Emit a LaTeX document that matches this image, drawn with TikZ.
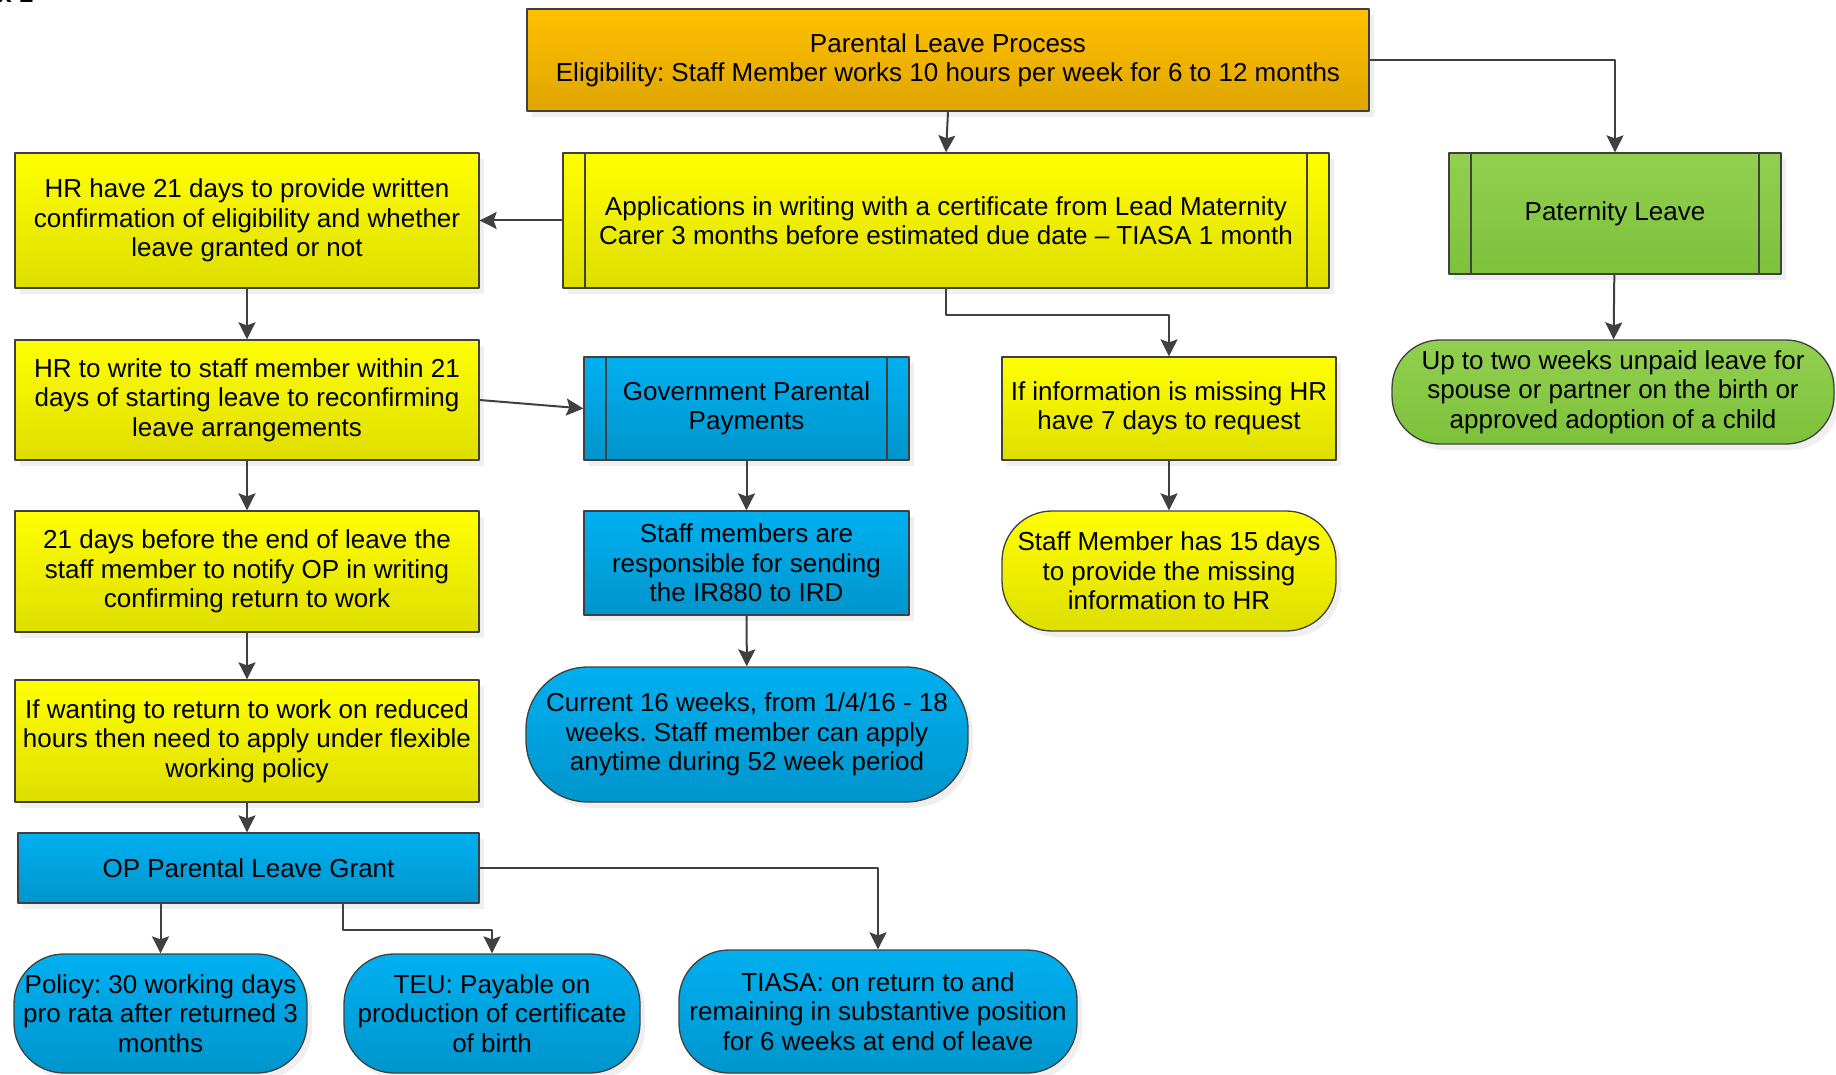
\documentclass[tikz,border=0pt]{standalone}
\usepackage{fontspec}
\setmainfont{Liberation Sans}
\frenchspacing
\usetikzlibrary{arrows.meta,shadows}
\definecolor{linegray}{HTML}{404040}
\definecolor{orgtop}{HTML}{FFC000}
\definecolor{orgbot}{HTML}{DFA500}
\definecolor{ylwtop}{HTML}{FFFF00}
\definecolor{ylwbot}{HTML}{DEDE00}
\definecolor{blutop}{HTML}{00B0F0}
\definecolor{blubot}{HTML}{0095CC}
\definecolor{grntop}{HTML}{92D050}
\definecolor{grnbot}{HTML}{7DC13A}
\tikzset{
box/.style={draw=linegray,line width=1.3pt,inner sep=0pt,align=center,
  font=\fontsize{26}{29.3}\selectfont,
  drop shadow={shadow xshift=5pt,shadow yshift=-6pt,fill=black!12}},
orangebox/.style={box,top color=orgtop,bottom color=orgbot},
yellowbox/.style={box,top color=ylwtop,bottom color=ylwbot},
bluebox/.style={box,top color=blutop,bottom color=blubot},
greenbox/.style={box,top color=grntop,bottom color=grnbot},
subproc/.style={path picture={\draw[linegray,line width=1.3pt]
  ([xshift=22pt]path picture bounding box.north west)--([xshift=22pt]path picture bounding box.south west)
  ([xshift=-22pt]path picture bounding box.north east)--([xshift=-22pt]path picture bounding box.south east);}},
terminal/.style={rounded corners=#1},
terminal/.default=50pt,
conn/.style={draw=linegray,line width=2pt,->}
}
\begin{document}
\begin{tikzpicture}[x=1pt,y=-1pt,line join=round,>={Stealth[length=17pt,width=17pt,inset=3pt]}]
\useasboundingbox (0,0) rectangle (1836,1075);
\path (37,3) node[anchor=base east,font=\bfseries\fontsize{26}{30}\selectfont] (T) {Appendix 1};
% top row
\path (948,60) node[orangebox,minimum width=842pt,minimum height=102pt] (A)
  {Parental Leave Process\\Eligibility: Staff Member works 10 hours per week for 6 to 12 months}
(946,220.5) node[yellowbox,subproc,minimum width=766pt,minimum height=135pt] (B)
  {Applications in writing with a certificate from Lead Maternity\\Carer 3 months before estimated due date -- TIASA 1 month}
(247,220.5) node[yellowbox,minimum width=464pt,minimum height=135pt] (C)
  {HR have 21 days to provide written\\confirmation of eligibility and whether\\leave granted or not}
(1615,213.5) node[greenbox,subproc,minimum width=332pt,minimum height=121pt] (D)
  {Paternity Leave}
(1613,392) node[greenbox,terminal=48pt,minimum width=442pt,minimum height=104pt] (E)
  {Up to two weeks unpaid leave for\\spouse or partner on the birth or\\approved adoption of a child}
% left column
(247,400) node[yellowbox,minimum width=464pt,minimum height=120pt] (F)
  {HR to write to staff member within 21\\days of starting leave to reconfirming\\leave arrangements}
(247,571.5) node[yellowbox,minimum width=464pt,minimum height=121pt] (I)
  {21 days before the end of leave the\\staff member to notify OP in writing\\confirming return to work}
(247,741) node[yellowbox,minimum width=464pt,minimum height=122pt] (L)
  {If wanting to return to work on reduced\\hours then need to apply under flexible\\working policy}
(248.5,868) node[bluebox,minimum width=461pt,minimum height=70pt] (N)
  {OP Parental Leave Grant}
% middle
(746.5,408.5) node[bluebox,subproc,minimum width=325pt,minimum height=103pt] (G)
  {Government Parental\\Payments}
(746.5,563) node[bluebox,minimum width=325pt,minimum height=104pt] (J)
  {Staff members are\\responsible for sending\\the IR880 to IRD}
(747,734.5) node[bluebox,terminal=62pt,minimum width=442pt,minimum height=135pt] (M)
  {Current 16 weeks, from 1/4/16 - 18\\weeks. Staff member can apply\\anytime during 52 week period}
(1169,408.5) node[yellowbox,minimum width=334pt,minimum height=103pt] (H)
  {If information is missing HR\\have 7 days to request}
(1169,571) node[yellowbox,terminal,minimum width=334pt,minimum height=120pt] (K)
  {Staff Member has 15 days\\to provide the missing\\information to HR}
% bottom row
(160.5,1013.5) node[bluebox,terminal,minimum width=293pt,minimum height=119pt] (O)
  {Policy: 30 working days\\pro rata after returned 3\\months}
(492,1013.5) node[bluebox,terminal,minimum width=296pt,minimum height=119pt] (P)
  {TEU: Payable on\\production of certificate\\of birth}
(878,1011.5) node[bluebox,terminal,minimum width=398pt,minimum height=123pt] (Q)
  {TIASA: on return to and\\remaining in substantive position\\for 6 weeks at end of leave}
;
\draw[conn] (A.south)--(B.north);
\draw[conn] (A.east)-|(D.north);
\draw[conn] (B.west)--(C.east);
\draw[conn] (B.south)--++(0,26)-|(H.north);
\draw[conn] (C)--(F);
\draw[conn] (F)--(I);
\draw[conn] (I)--(L);
\draw[conn] (L.south)--(L.south|-N.north);
\draw[conn] (F.east)--(G.west);
\draw[conn] (G)--(J);
\draw[conn] (J)--(M);
\draw[conn] (H)--(K);
\draw[conn] (D)--(E);
\draw[conn] (O.north|-N.south)--(O.north);
\draw[conn] (P.north west|-N.south)--++(0,26)-|(P.north);
\draw[conn] (N.east)-|(Q.north);
\end{tikzpicture}
\end{document}
